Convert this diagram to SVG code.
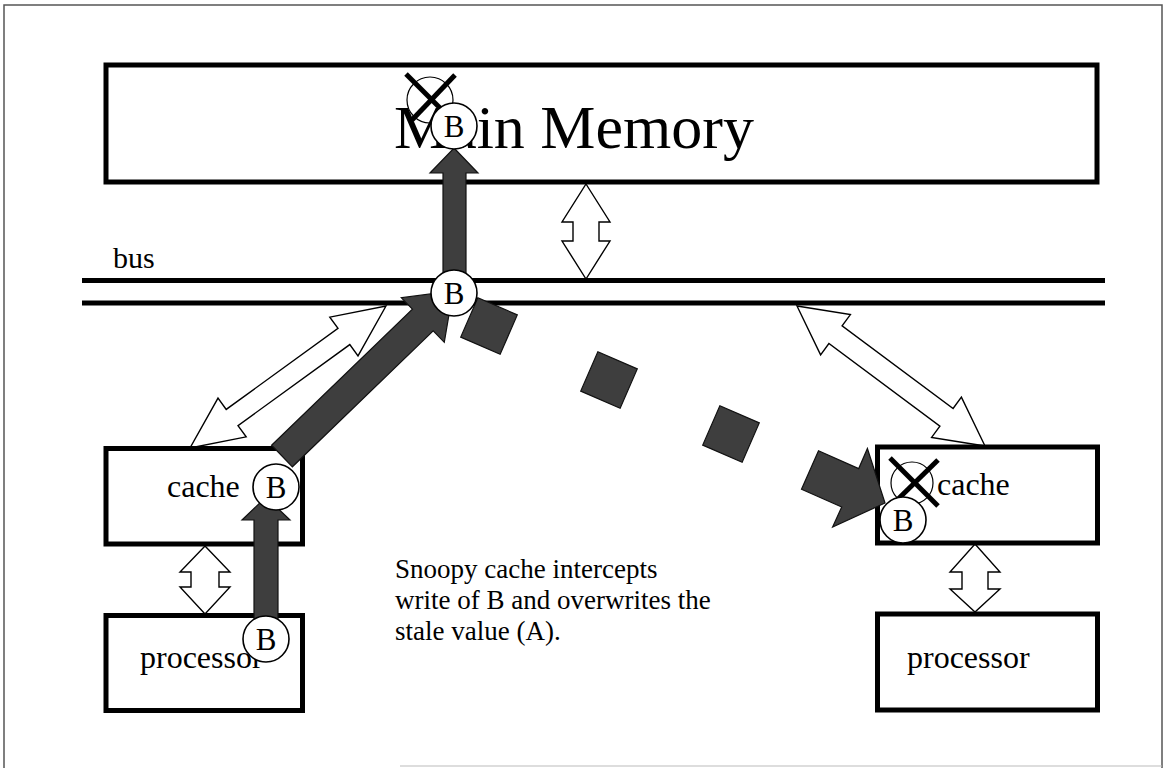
<svg xmlns="http://www.w3.org/2000/svg" width="1165" height="769" viewBox="0 0 1165 769">
  <style>
    .frame { fill: none; stroke: #555; stroke-width: 1.5; }
    .box { fill: #fff; stroke: #000; stroke-width: 5; }
    .busline { stroke: #000; stroke-width: 5; }
    .link { fill: #fff; stroke: #000; stroke-width: 1.4; stroke-linejoin: miter; }
    .flow { fill: #3e3e3e; stroke: #111; stroke-width: 1.2; stroke-linejoin: miter; }
    .tok { fill: #fff; stroke: #000; stroke-width: 1.6; }
    .old { fill: none; stroke: #000; stroke-width: 1.2; }
    .cross { stroke: #000; stroke-width: 5; stroke-linecap: butt; }
    .lbl { font-family: "Liberation Serif", "Times New Roman", serif; fill: #000; }
    .b { font-family: "Liberation Serif", "Times New Roman", serif; font-size: 31px; text-anchor: middle; fill: #000; }
  </style>

  <!-- page frame -->
  <path class="frame" d="M4,768 V5 H1162 V768"/>
  <line x1="400" y1="766" x2="1162" y2="766" stroke="#bbb" stroke-width="1.2"/>

  <!-- hollow double-headed links between memory, bus, caches and processors -->
  <g id="connectors">
    <polygon class="link" points="586,184 610,222 599,222 599,241 610,241 586,279 562,241 573,241 573,222 562,222"/>
    <polygon class="link" points="386,306 358,355.9 349.8,344.6 238,425.6 246.2,436.9 190,448 218,398.1 226.2,409.4 338,328.4 329.8,317.1"/>
    <polygon class="link" points="797,306 850.4,314.6 842.1,325.9 953.1,408.5 961.4,397.2 985,446 931.6,437.4 939.9,426.1 828.9,343.5 820.6,354.8"/>
    <polygon class="link" points="205,546 230,572 219,572 219,587 230,587 205,614 180,587 191,587 191,572 180,572"/>
    <polygon class="link" points="975,544 1000,572 988,572 988,589 1000,589 975,612 950,589 962,589 962,572 950,572"/>
  </g>

  <!-- main memory -->
  <g id="main-memory">
    <rect class="box" x="106" y="65" width="991" height="117"/>
    <text class="lbl" x="394" y="148" font-size="62">Main Memory</text>
  </g>

  <!-- bus -->
  <g id="bus">
    <rect x="82" y="280" width="1023" height="23" fill="#fff"/>
    <line class="busline" x1="82" y1="280.5" x2="1105" y2="280.5"/>
    <line class="busline" x1="82" y1="303" x2="1105" y2="303"/>
    <text class="lbl" x="113" y="268" font-size="30">bus</text>
  </g>

  <!-- left side -->
  <g id="cache-left">
    <rect class="box" x="106" y="448.5" width="196.5" height="95.5"/>
    <text class="lbl" x="167" y="497" font-size="32">cache</text>
  </g>
  <g id="processor-left">
    <rect class="box" x="106" y="615.5" width="196.5" height="95"/>
    <text class="lbl" x="140" y="668" font-size="32">processor</text>
  </g>

  <!-- right side -->
  <g id="cache-right">
    <rect class="box" x="877.5" y="447" width="220" height="96"/>
    <text class="lbl" x="937" y="495" font-size="32">cache</text>
  </g>
  <g id="processor-right">
    <rect class="box" x="877.5" y="614" width="220" height="96"/>
    <text class="lbl" x="907" y="668" font-size="32">processor</text>
  </g>

  <!-- caption -->
  <g id="caption">
    <text class="lbl" font-size="27">
      <tspan x="395" y="578">Snoopy cache intercepts</tspan>
      <tspan x="395" y="609">write of B and overwrites the</tspan>
      <tspan x="395" y="640">stale value (A).</tspan>
    </text>
  </g>

  <!-- write path of B: processor -> cache -> bus -> memory, and the snoop to the other cache -->
  <g id="write-path">
    <polygon class="flow" points="266,497 290,520 278,520 278,650 254,650 254,520 242,520"/>
    <polygon class="flow" points="271.6,445.2 412.4,309.2 401.3,297.7 453,291 444.3,342.3 433.2,330.8 292.4,466.8"/>
    <polygon class="flow" points="454,148 478,173 466,173 466,290 443,290 443,173 430,173"/>
    <rect class="flow" x="467.5" y="304.5" width="43" height="43" transform="rotate(23.5 489 326)"/>
    <rect class="flow" x="587.5" y="358.5" width="43" height="43" transform="rotate(23.5 609 380)"/>
    <rect class="flow" x="709.5" y="412.5" width="43" height="43" transform="rotate(23.5 731 434)"/>
    <polygon class="flow" points="818.5,450.8 858.7,468.6 867.4,448.5 885,503 832.6,527.1 841.7,507 801.5,489.2"/>
  </g>

  <!-- stale values, crossed out -->
  <g id="stale-memory">
    <circle class="old" cx="430" cy="100" r="23"/>
    <line class="cross" x1="406" y1="74" x2="452" y2="120"/>
    <line class="cross" x1="455" y1="75" x2="412" y2="120"/>
  </g>
  <g id="stale-cache">
    <circle class="old" cx="912" cy="483" r="21"/>
    <line class="cross" x1="890" y1="458" x2="938" y2="506"/>
    <line class="cross" x1="938" y1="460" x2="892" y2="505"/>
  </g>

  <!-- value B tokens -->
  <g id="token-memory"><circle class="tok" cx="454" cy="126" r="23"/><text class="b" x="454" y="137">B</text></g>
  <g id="token-bus"><circle class="tok" cx="454" cy="293" r="23"/><text class="b" x="454" y="304">B</text></g>
  <g id="token-cache-left"><circle class="tok" cx="276" cy="487" r="23"/><text class="b" x="276" y="498">B</text></g>
  <g id="token-processor-left"><circle class="tok" cx="266" cy="639" r="23"/><text class="b" x="266" y="650">B</text></g>
  <g id="token-cache-right"><circle class="tok" cx="903" cy="520" r="23"/><text class="b" x="903" y="531">B</text></g>
</svg>
